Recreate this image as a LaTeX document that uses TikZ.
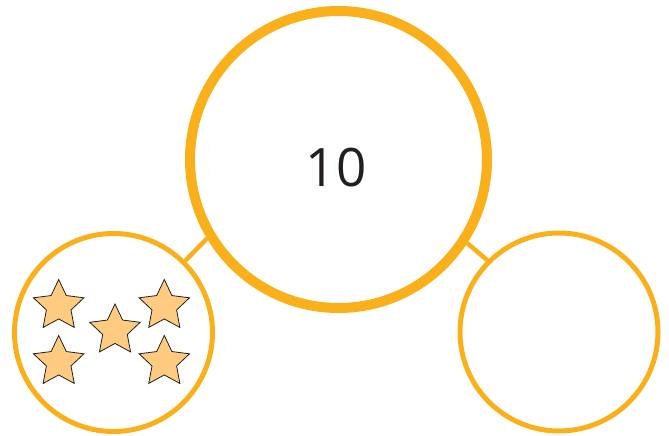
\documentclass[tikz,border=0pt]{standalone}
\usepackage{fontspec}
\setmainfont{Open Sans}
\usetikzlibrary{shapes.geometric}

\definecolor{ringorange}{RGB}{249,176,26}
\definecolor{starfill}{RGB}{254,203,128}
\definecolor{inkdark}{RGB}{35,31,32}

\tikzset{
  bigring/.style={circle, draw=ringorange, line width=10pt, minimum size=297pt, inner sep=0pt},
  smallring/.style={circle, draw=ringorange, line width=5pt, minimum size=198pt, inner sep=0pt},
  joinline/.style={draw=ringorange, line width=4.5pt},
  counter/.style={star, star points=5, star point ratio=2.05, draw=inkdark, line width=0.8pt,
    fill=starfill, minimum size=53pt, inner sep=0pt, outer sep=0pt}
}

\begin{document}
\begin{tikzpicture}[x=1pt, y=-1pt]
  \useasboundingbox (0,0) rectangle (669,436);

  \node[bigring] (whole) at (338.5,159.5) {};
  \node[text=inkdark] at (336,167.5) (total) {\fontsize{53}{60}\selectfont 10};

  \node[smallring] (partA) at (113.5,332.5) {};
  \node[smallring] (partB) at (559,332) {};

  \draw[joinline] (partA.45) -- (whole.211);
  \draw[joinline] (partB.135) -- (whole.327);

  % five stars in the left part
  \foreach \sx/\sy [count=\i] in
    {
        58.7/306, 164.3/306, 115/330.5, 58.7/362, 164.3/362
    }
    {
        \node[counter] (star\i) at (\sx,\sy) {};
    }

\end{tikzpicture}
\end{document}
